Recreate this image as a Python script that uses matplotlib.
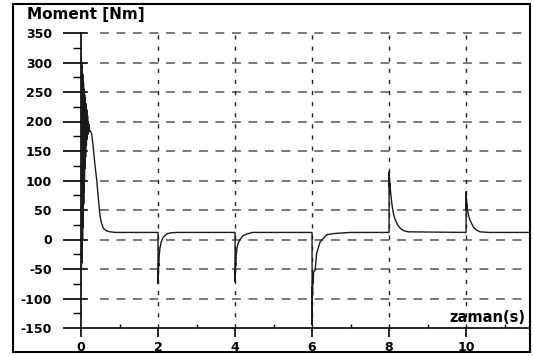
import numpy as np
import matplotlib.pyplot as plt
from matplotlib.patches import Rectangle
from matplotlib.ticker import MultipleLocator

plt.rcParams['axes.unicode_minus'] = False

# zaman (s) ve moment (Nm) degerleri
t_start = [0.000, 0.005, 0.010, 0.015, 0.020, 0.025, 0.030, 0.035, 0.040, 0.045,
           0.050, 0.055, 0.060, 0.065, 0.070, 0.075, 0.080, 0.085, 0.090, 0.095,
           0.100, 0.110, 0.120, 0.130, 0.140, 0.150, 0.160, 0.170, 0.180, 0.190,
           0.200, 0.210, 0.220, 0.250, 0.280, 0.320, 0.360, 0.410, 0.450, 0.490,
           0.530, 0.580, 0.650, 0.750, 0.900]
m_start = [0, 310, -50, 300, -40, 295, -20, 285, 0, 280,
           20, 270, 40, 265, 60, 255, 80, 250, 100, 245,
           120, 240, 140, 230, 160, 220, 170, 210, 178, 200,
           182, 195, 185, 183, 178, 155, 128, 100, 70, 42,
           28, 19, 15, 13, 12]

t_dip2 = [2.000, 2.002, 2.006, 2.010, 2.014, 2.018, 2.030, 2.050, 2.080, 2.120, 2.180, 2.250, 2.350, 2.500]
m_dip2 = [12, -75, -55, -60, -40, -45, -28, -15, -5, 2, 7, 10, 11.5, 12]

t_dip4 = [4.000, 4.002, 4.006, 4.010, 4.014, 4.018, 4.030, 4.050, 4.080, 4.130, 4.200, 4.300, 4.450]
m_dip4 = [12, -72, -50, -55, -40, -44, -28, -15, -6, 0, 6, 9, 12]

t_dip6 = [6.000, 6.003, 6.008, 6.013, 6.018, 6.025, 6.040, 6.080, 6.120, 6.210, 6.380, 6.550, 6.990]
m_dip6 = [12, -145, -80, -95, -60, -75, -55, -52, -23, -4, 8, 10, 12]

t_pk8 = [8.000, 8.002, 8.006, 8.010, 8.014, 8.020, 8.040, 8.070, 8.110, 8.150, 8.220, 8.290, 8.380, 8.500]
m_pk8 = [12, 115, 90, 105, 85, 95, 80, 62, 45, 35, 25, 19, 15, 13]

t_pk10 = [10.000, 10.002, 10.006, 10.010, 10.014, 10.020, 10.040, 10.070, 10.100, 10.190, 10.270, 10.360, 10.600, 11.660]
m_pk10 = [12, 81, 50, 70, 52, 60, 48, 40, 33, 21, 16, 13, 12, 12]

t = t_start + [1.99] + t_dip2 + [3.99] + t_dip4 + [5.99] + t_dip6 + [7.99] + t_pk8 + [9.99] + t_pk10
m = m_start + [12] + m_dip2 + [12] + m_dip4 + [12] + m_dip6 + [12] + m_pk8 + [12] + m_pk10

x_ticks = [0, 2, 4, 6, 8, 10]
y_ticks = [-150, -100, -50, 0, 50, 100, 150, 200, 250, 300, 350]

W, H = 533, 356
fig = plt.figure(figsize=(W / 100, H / 100), dpi=100)
ax = fig.add_axes([81 / W, 28 / H, (530 - 81) / W, (328 - 33) / H])

ax.plot(t, m, color='#1a1a1a', lw=1.0, zorder=3)

ax.set_xlim(0, 11.66)
ax.set_ylim(-150, 350)
ax.set_xticks(x_ticks)
ax.set_yticks(y_ticks)
ax.xaxis.set_minor_locator(MultipleLocator(1))
ax.yaxis.set_minor_locator(MultipleLocator(25))

for s in ['top', 'right']:
    ax.spines[s].set_visible(False)
ax.spines['left'].set_linewidth(1.2)
ax.spines['bottom'].set_linewidth(1.2)

# grid
for yv in y_ticks[1:]:
    ax.axhline(yv, xmin=19 / 449, color='#555555', lw=1.1, dashes=(5.8, 5), zorder=1, clip_on=False)
for xv in x_ticks[1:]:
    ax.axvline(xv, color='#222222', lw=1.0, dashes=(3, 5), zorder=1)

# kisa ic tikler (eksenin sagina tasan kisim)
for yv in y_ticks[1:]:
    ax.plot([0, 6 / 38.5], [yv, yv], color='black', lw=1.2, zorder=2, clip_on=False)

ax.tick_params(axis='y', which='major', direction='out', length=13, width=1.2, pad=8,
               labelsize=9)
ax.tick_params(axis='y', which='minor', direction='out', length=6, width=1)
ax.tick_params(axis='x', which='major', direction='out', length=6.5, width=1.2, pad=3,
               labelsize=9)
ax.tick_params(axis='x', which='minor', direction='in', length=3, width=1)
for lab in ax.get_xticklabels() + ax.get_yticklabels():
    lab.set_fontweight('bold')

fig.text(27 / W, 1 - 15 / H, 'Moment [Nm]', fontsize=11, fontweight='bold', va='center', ha='left')
fig.text(525 / W, 1 - 318 / H, 'zaman(s)', fontsize=10.5, fontweight='bold', va='center', ha='right')

fig.add_artist(Rectangle((13 / W, 4 / H), (530 - 13) / W, (352 - 4) / H, transform=fig.transFigure,
                         fill=False, lw=1.5, edgecolor='black'))

fig.savefig('out.png', dpi=100)
